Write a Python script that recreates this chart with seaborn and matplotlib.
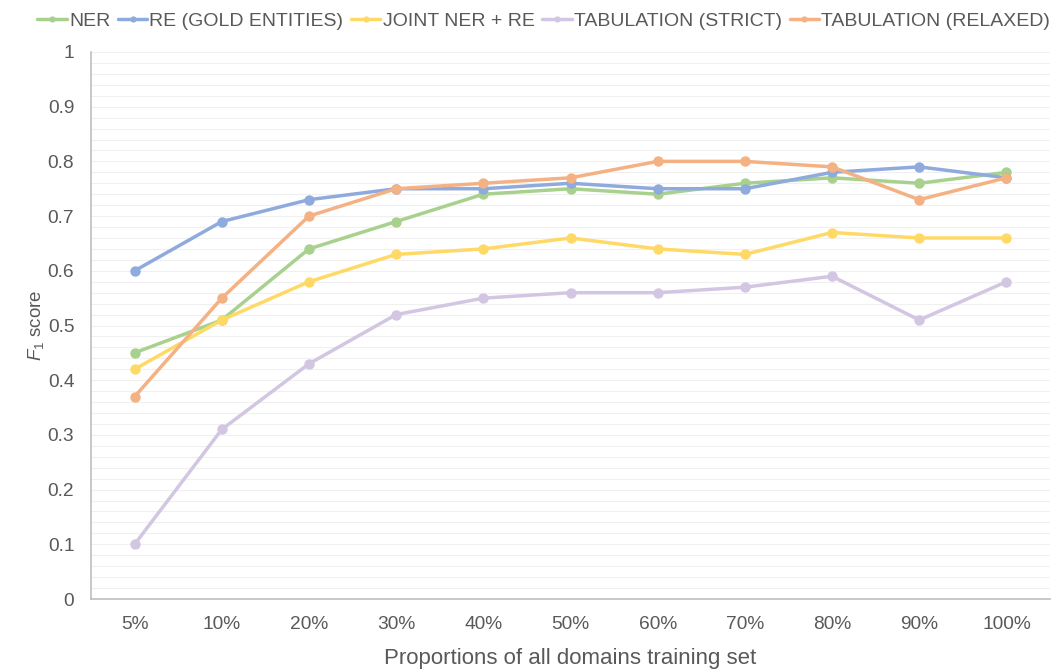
import matplotlib
matplotlib.use("Agg")
import matplotlib.pyplot as plt
import seaborn as sns
import pandas as pd
import numpy as np

categories = ["5%", "10%", "20%", "30%", "40%", "50%", "60%", "70%", "80%", "90%", "100%"]
ner = [0.45, 0.51, 0.64, 0.69, 0.74, 0.75, 0.74, 0.76, 0.77, 0.76, 0.78]
re_gold = [0.60, 0.69, 0.73, 0.75, 0.75, 0.76, 0.75, 0.75, 0.78, 0.79, 0.77]
joint = [0.42, 0.51, 0.58, 0.63, 0.64, 0.66, 0.64, 0.63, 0.67, 0.66, 0.66]
tab_strict = [0.10, 0.31, 0.43, 0.52, 0.55, 0.56, 0.56, 0.57, 0.59, 0.51, 0.58]
tab_relaxed = [0.37, 0.55, 0.70, 0.75, 0.76, 0.77, 0.80, 0.80, 0.79, 0.73, 0.77]

series_names = ["NER", "RE (GOLD ENTITIES)", "JOINT NER + RE", "TABULATION (STRICT)", "TABULATION (RELAXED)"]
series_vals = [ner, re_gold, joint, tab_strict, tab_relaxed]
colors = ["#A9D18E", "#8FAADC", "#FFD966", "#D3C6E2", "#F4B183"]

rows = []
for name, vals in zip(series_names, series_vals):
    for i, (c, v) in enumerate(zip(categories, vals)):
        rows.append({"x": i, "cat": c, "F1": v, "series": name})
df = pd.DataFrame(rows)

sns.set_theme(style="white")
plt.rcParams["font.family"] = ["Liberation Sans", "DejaVu Sans"]
plt.rcParams["mathtext.fontset"] = "custom"
plt.rcParams["mathtext.rm"] = "Liberation Sans"
plt.rcParams["mathtext.it"] = "Liberation Sans:italic"

text_color = "#595959"
fig = plt.figure(figsize=(10.62, 6.69), dpi=100)
ax = fig.add_axes([0.0857, 0.1046, 0.9030, 0.8177])

sns.lineplot(data=df, x="x", y="F1", hue="series", hue_order=series_names,
             palette=colors, marker="o", markersize=7.5, markeredgewidth=0,
             linewidth=2.5, ax=ax, legend=True)

ax.set_xlim(-0.5, len(categories) - 0.5)
ax.set_ylim(0, 1)
ax.set_xticks(range(len(categories)))
ax.set_xticklabels(categories)
ax.set_yticks(np.arange(0, 1.01, 0.1))
ax.set_yticklabels(["0", "0.1", "0.2", "0.3", "0.4", "0.5", "0.6", "0.7", "0.8", "0.9", "1"])
ax.set_yticks(np.arange(0, 1.001, 0.02), minor=True)
ax.grid(True, axis="y", which="both", color="#F0F0F0", linewidth=0.8)
ax.set_axisbelow(True)

for s in ["top", "right"]:
    ax.spines[s].set_visible(False)
for s in ["left", "bottom"]:
    ax.spines[s].set_color("#BFBFBF")
    ax.spines[s].set_linewidth(1.2)

ax.tick_params(axis="both", which="major", colors="#BFBFBF", labelcolor=text_color,
               labelsize=13.8, length=5, width=1, direction="out")
ax.tick_params(axis="y", which="minor", length=0)
ax.tick_params(axis="x", pad=7)
ax.tick_params(axis="y", pad=7)

ax.set_xlabel("Proportions of all domains training set", fontsize=16, color=text_color, labelpad=11)
ax.set_ylabel("$F_1$ score", fontsize=13.5, color=text_color, labelpad=1)

handles, labels = ax.get_legend_handles_labels()
ax.get_legend().remove()
fig.legend(handles, labels, loc="upper center", bbox_to_anchor=(0.512, 1.008), ncol=5,
           frameon=False, fontsize=14, handlelength=1.5, handletextpad=0.12,
           columnspacing=0.4, labelcolor=text_color, markerscale=0.6)

fig.savefig("out.png", dpi=100)
